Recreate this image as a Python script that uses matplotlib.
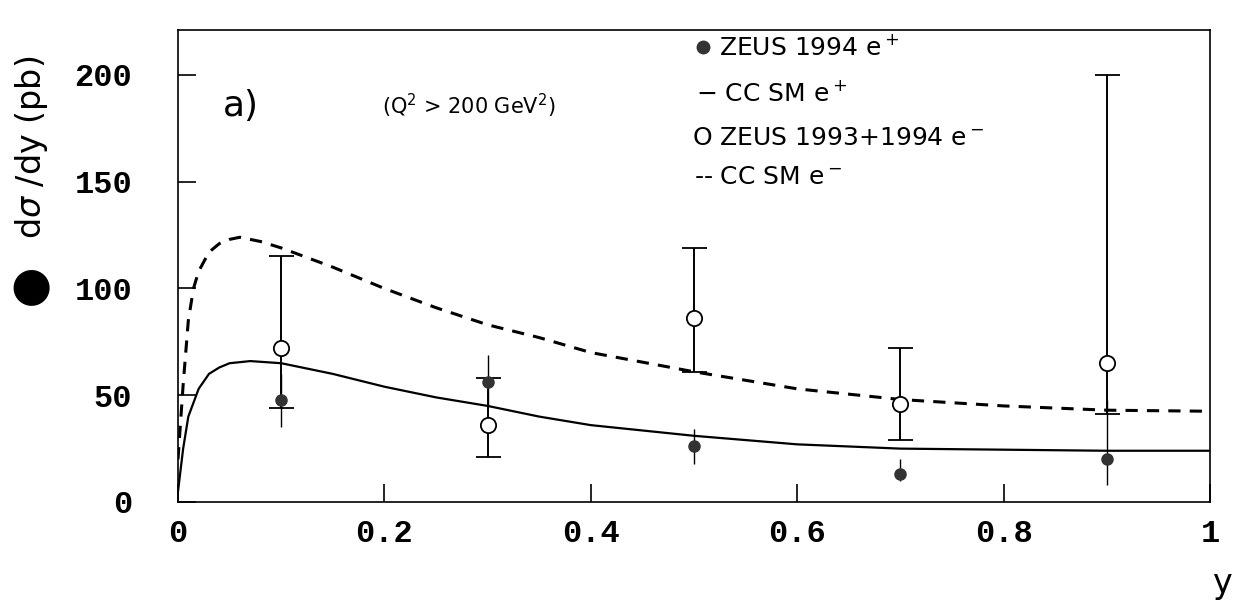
import numpy as np
import matplotlib.pyplot as plt

# e+ and e- data points (ZEUS)
x_pts = [0.1, 0.3, 0.5, 0.7, 0.9]
ep_val = [48, 56, 26, 13, 20]
ep_lo = [13, 11, 8, 3, 12]
ep_hi = [12, 13, 8, 7, 28]
em_val = [72, 36, 86, 46, 65]
em_lo = [28, 15, 25, 17, 24]
em_hi = [43, 22, 33, 26, 135]

# SM curves
sm_ep_x = [0, 0.005, 0.01, 0.02, 0.03, 0.04, 0.05, 0.07, 0.1, 0.15, 0.2, 0.25,
           0.3, 0.35, 0.4, 0.5, 0.6, 0.7, 0.8, 0.9, 1.0]
sm_ep_y = [5, 25, 40, 53, 60, 63, 65, 66, 65, 60, 54, 49,
           45, 40, 36, 31, 27, 25, 24.5, 24, 24]
sm_em_x = [0, 0.005, 0.01, 0.015, 0.02, 0.03, 0.04, 0.05, 0.06, 0.08, 0.1, 0.15,
           0.2, 0.25, 0.3, 0.35, 0.4, 0.5, 0.6, 0.7, 0.8, 0.9, 1.0]
sm_em_y = [20, 55, 85, 100, 108, 117, 121, 123, 124, 122, 119, 110,
           100, 91, 83, 77, 70, 61, 53, 48, 45, 43, 42.5]

fig = plt.figure(figsize=(12.43, 6.03), dpi=100)
ax = fig.add_axes([0.1432, 0.1675, 0.8303, 0.7825])

ax.plot(sm_ep_x, sm_ep_y, color='black', lw=1.6)
ax.plot(sm_em_x, sm_em_y, color='black', lw=2.2, ls=(0, (4, 3)))

ax.errorbar(x_pts, em_val, yerr=[em_lo, em_hi], fmt='o', mfc='white', mec='black',
            ms=11, mew=1.3, color='black', elinewidth=1.4, capsize=9, capthick=1.4, zorder=3)
ax.errorbar(x_pts, ep_val, yerr=[ep_lo, ep_hi], fmt='o', mfc='#333333', mec='#333333',
            ms=8, color='black', elinewidth=1.0, capsize=0, zorder=4)

ax.set_xlim(0, 1)
ax.set_ylim(0, 221)
ax.set_xticks([0, 0.2, 0.4, 0.6, 0.8, 1])
ax.set_xticklabels(['0', '0.2', '0.4', '0.6', '0.8', '1'])
ax.set_yticks([0, 50, 100, 150, 200])
ax.tick_params(direction='in', length=13, width=1.2, top=False, right=False)
ax.tick_params(axis='x', pad=12)
ax.tick_params(axis='y', pad=33)
for lab in ax.get_xticklabels() + ax.get_yticklabels():
    lab.set_fontfamily('Liberation Mono')
    lab.set_fontweight('bold')
    lab.set_fontsize(23)
for s in ax.spines.values():
    s.set_linewidth(1.2)

ax.text(0.043, 0.84, 'a)', transform=ax.transAxes, fontsize=26, va='center')
ax.text(0.198, 0.84, r'(Q$^2$ > 200 GeV$^2$)', transform=ax.transAxes, fontsize=15, va='center')

# legend as text lines
lx = 0.498
ax.plot([lx + 0.011], [0.964], 'o', transform=ax.transAxes, color='#333333', ms=9, clip_on=False)
ax.text(lx + 0.026, 0.964, r'ZEUS 1994 e$^+$', transform=ax.transAxes, fontsize=18, va='center')
ax.text(lx + 0.004, 0.866, r'$-$ CC SM e$^+$', transform=ax.transAxes, fontsize=18, va='center')
ax.text(lx, 0.772, r'O ZEUS 1993+1994 e$^-$', transform=ax.transAxes, fontsize=18, va='center')
ax.text(lx + 0.002, 0.688, r'-- CC SM e$^-$', transform=ax.transAxes, fontsize=18, va='center')

# y label with the filled circle
fig.text(0.025, 0.755, r'd$\sigma$ /dy (pb)', rotation=90, fontsize=24, va='center', ha='center')
fig.text(0.025, 0.524, '\u25CF', fontsize=34, va='center', ha='center')
fig.text(0.983, 0.033, 'y', fontsize=24, ha='center', va='center')

fig.savefig('out.png', dpi=100)
